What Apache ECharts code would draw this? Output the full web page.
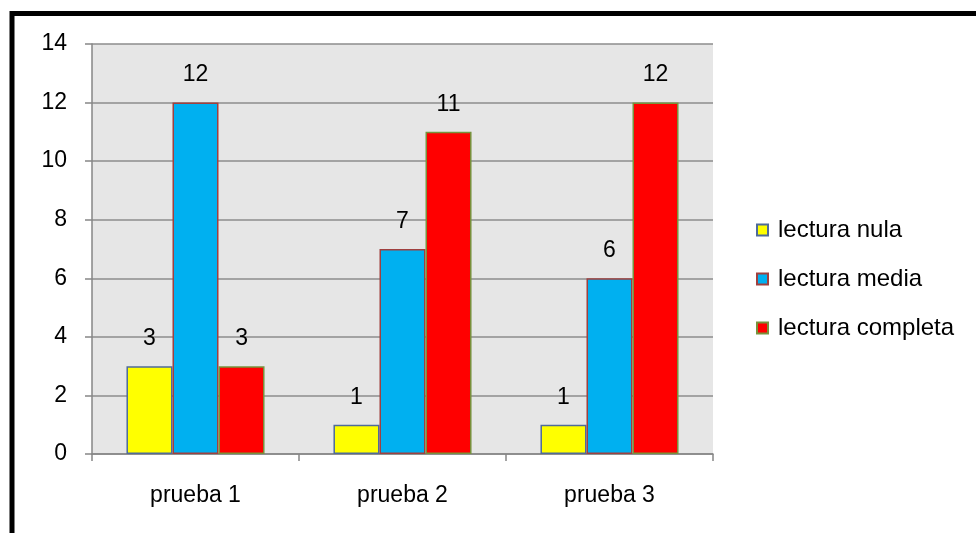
<!DOCTYPE html>
<html><head><meta charset="utf-8">
<script src="https://cdn.jsdelivr.net/npm/echarts@6/dist/echarts.min.js"></script>
<style>html,body{margin:0;padding:0;background:#fff}#c{width:976px;height:533px}</style>
</head><body><div id="c"></div>
<script>
const categories = ['prueba 1', 'prueba 2', 'prueba 3'];
const lecturaNula = [3, 1, 1];
const lecturaMedia = [12, 7, 6];
const lecturaCompleta = [3, 11, 12];
const seriesNames = ['lectura nula', 'lectura media', 'lectura completa'];
const yTicks = { min: 0, max: 14, interval: 2 };

const FONT = 'Liberation Sans';
const FS = 23;
const chart = echarts.init(document.getElementById('c'), null, { renderer: 'canvas' });
const lbl = { show: true, position: 'top', distance: 16, color: '#000', fontFamily: FONT, fontSize: FS };
function ser(name, data, color, border) {
  return { name, type: 'bar', data, barGap: '0%', barCategoryGap: '33.3%',
    itemStyle: { color, borderColor: border, borderWidth: 1.5 }, label: lbl };
}
chart.setOption({
  animation: false,
  backgroundColor: '#fff',
  graphic: [{ type: 'rect', shape: { x: 12, y: 13.5, width: 1100, height: 700 },
    style: { fill: 'none', stroke: '#000', lineWidth: 5 }, z: 100 }],
  grid: { left: 92, top: 44, width: 621, height: 410, show: true, backgroundColor: '#E6E6E6', borderWidth: 0 },
  legend: { orient: 'vertical', left: 756, top: 218, padding: 0, itemWidth: 11, itemHeight: 11, itemGap: 25, icon: 'rect',
    data: seriesNames,
    textStyle: { fontFamily: FONT, fontSize: 24, color: '#000', lineHeight: 24, padding: [0, 0, 0, 5] } },
  xAxis: { type: 'category', data: categories,
    axisLine: { lineStyle: { color: '#868686', width: 1.5 } },
    axisTick: { show: true, length: 7, alignWithLabel: false, lineStyle: { color: '#868686', width: 1.5 } },
    axisLabel: { color: '#000', fontFamily: FONT, fontSize: FS, margin: 30 } },
  yAxis: { type: 'value', min: yTicks.min, max: yTicks.max, interval: yTicks.interval,
    axisLine: { show: true, lineStyle: { color: '#868686', width: 1.5 } },
    axisTick: { show: true, length: 7, lineStyle: { color: '#868686', width: 1.5 } },
    splitLine: { lineStyle: { color: '#8C8C8C', width: 1.5 } },
    axisLabel: { color: '#000', fontFamily: FONT, fontSize: FS, margin: 25 } },
  series: [
    ser(seriesNames[0], lecturaNula, '#FFFF00', '#4F6B9A'),
    ser(seriesNames[1], lecturaMedia, '#00B0F0', '#A0403F'),
    ser(seriesNames[2], lecturaCompleta, '#FF0000', '#77933C')
  ]
});
</script></body></html>
